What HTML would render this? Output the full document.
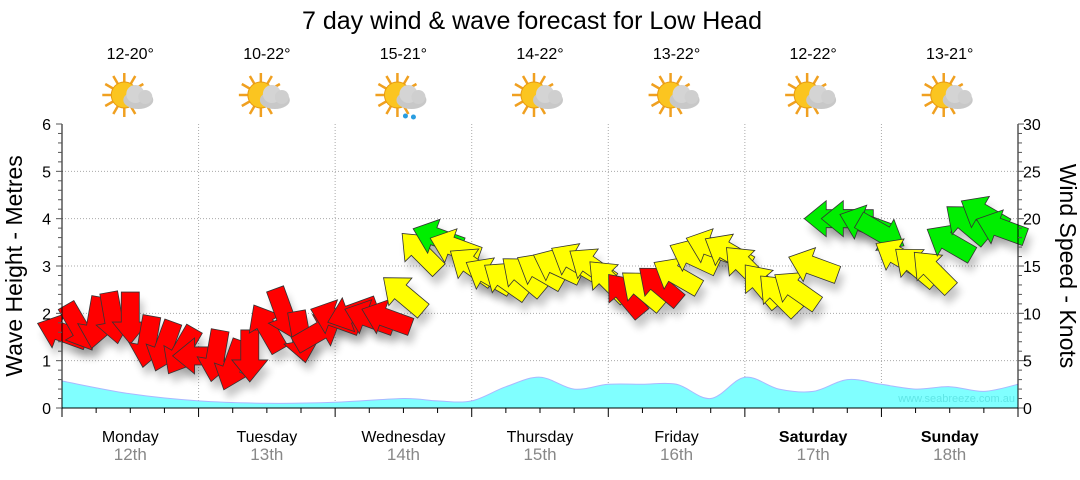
<!DOCTYPE html>
<html><head><meta charset="utf-8"><style>
body{margin:0;background:#fff;}
svg text{font-family:"Liberation Sans",sans-serif;}
</style></head><body>
<svg id="chart" width="1080" height="475" viewBox="0 0 1080 475">
<defs><filter id="sh" x="-50%" y="-50%" width="200%" height="200%"><feGaussianBlur stdDeviation="4"/></filter></defs>
<text x="532" y="29" font-size="25" text-anchor="middle">7 day wind &amp; wave forecast for Low Head</text>
<g id="grid"></g><g id="wave"></g><g id="icons"></g><g id="shadows"></g><g id="arrows"></g><g id="axes"></g>
<text x="1015" y="402" font-size="11" fill="#5fe6e6" text-anchor="end">www.seabreeze.com.au</text>
<text transform="translate(22,266) rotate(-90)" font-size="23" text-anchor="middle">Wave Height - Metres</text>
<text transform="translate(1060,266) rotate(90)" font-size="23" text-anchor="middle">Wind Speed - Knots</text>
</svg>
<script>
const days=["Monday","Tuesday","Wednesday","Thursday","Friday","Saturday","Sunday"];
const dates=["12th","13th","14th","15th","16th","17th","18th"];
const temps=["12-20°","10-22°","15-21°","14-22°","13-22°","12-22°","13-21°"];
const rainy=[false,false,true,false,false,false,false];
const leftTicks=[0,1,2,3,4,5,6];
const rightTicks=[0,5,10,15,20,25,30];
const waveHours=[0,12,24,36,48,60,66,72,78,84,90,96,102,108,114,120,126,132,138,144,150,156,162,168];
const waveVals=[0.57,0.3,0.15,0.1,0.12,0.2,0.15,0.15,0.45,0.65,0.4,0.5,0.5,0.5,0.2,0.65,0.4,0.35,0.6,0.5,0.4,0.45,0.35,0.5];
const windSpeed=[8,8.5,9,9.5,9.5,7,6.5,6,5.5,5.5,4.5,5.5,8.5,10,7.5,8,9.5,10,9.5,9.5,12,16.5,18,17,15,14,13.5,14,14.5,15,15.5,15,13.5,12,12.5,13,14,16,17,16.5,15,13,12,12.5,15,20,20,19.5,18.5,16,15,14.5,17.5,19.5,20.5,19];
const windDir=[200,60,100,80,90,100,110,120,180,100,110,90,240,70,80,-30,200,160,200,200,220,225,200,200,215,210,215,220,210,205,210,215,225,230,220,220,210,205,200,210,225,230,225,215,200,180,180,200,30,210,220,225,210,220,210,200];
const windCol=["r","r","r","r","r","r","r","r","r","r","r","r","r","r","r","r","r","r","r","r","y","y","g","y","y","y","y","y","y","y","y","y","y","r","y","r","y","y","y","y","y","y","y","y","y","g","g","g","g","y","y","y","g","g","g","g"];
const NS="http://www.w3.org/2000/svg";
const X0=62,X1=1018,Y0=408,Y1=124;
const xH=h=>X0+h/168*(X1-X0);
const yM=m=>Y0-m/6*(Y0-Y1);
const yK=k=>Y0-k/30*(Y0-Y1);
function mk(tag,attrs,parent){const e=document.createElementNS(NS,tag);for(const k in attrs)e.setAttribute(k,attrs[k]);parent.appendChild(e);return e;}
const grid=document.getElementById('grid'),axes=document.getElementById('axes');
for(let i=1;i<6;i++){const l=mk('line',{x1:X0,x2:X1,y1:yM(i),y2:yM(i),stroke:'#aaa','stroke-dasharray':'1,2'},grid);

}
for(let d=1;d<7;d++){const l=mk('line',{x1:xH(d*24),x2:xH(d*24),y1:Y1,y2:Y0,stroke:'#aaa','stroke-dasharray':'1,2'},grid);

}
// wave area (smoothed curve through data points)
const pts=waveHours.map((h,i)=>[xH(h),yM(waveVals[i])]);
let p=`M${X0},${Y0} L${pts[0][0]},${pts[0][1]}`;
for(let i=0;i<pts.length-1;i++){const a=pts[i>0?i-1:i],b=pts[i],c=pts[i+1],d=pts[i+2<pts.length?i+2:i+1];
const c1=[b[0]+(c[0]-a[0])/6,b[1]+(c[1]-a[1])/6],c2=[c[0]-(d[0]-b[0])/6,c[1]-(d[1]-b[1])/6];
p+=` C${c1[0].toFixed(1)},${c1[1].toFixed(1)} ${c2[0].toFixed(1)},${c2[1].toFixed(1)} ${c[0].toFixed(1)},${c[1].toFixed(1)}`;}
p+=` L${X1},${Y0} Z`;
const wa=mk('path',{d:p,fill:'#80ffff',stroke:'#aab8ff','stroke-width':1},document.getElementById('wave'));


// axes
mk('line',{x1:X0,x2:X0,y1:Y1,y2:Y0,stroke:'#000'},axes);
mk('line',{x1:X1,x2:X1,y1:Y1,y2:Y0,stroke:'#000'},axes);
mk('line',{x1:X0,x2:X1,y1:Y0,y2:Y0,stroke:'#000'},axes);
for(let i=0;i<=30;i++){const y=yM(i*0.2);mk('line',{x1:X0-(i%5?4:6),x2:X0,y1:y,y2:y,stroke:'#555'},axes);
const y2=yK(i);mk('line',{x1:X1,x2:X1+(i%5?4:6),y1:y2,y2:y2,stroke:'#555'},axes);}
leftTicks.forEach(v=>{const t=mk('text',{x:X0-11,y:yM(v)+6,'font-size':16,'text-anchor':'end'},axes);t.textContent=v;

});
rightTicks.forEach(v=>{const t=mk('text',{x:X1+5,y:yK(v)+6,'font-size':16},axes);t.textContent=v;

});
for(let h=0;h<=168;h+=6){mk('line',{x1:xH(h),x2:xH(h),y1:Y0,y2:Y0+(h%24?5:9),stroke:'#000'},axes);}
const icons=document.getElementById('icons');
days.forEach((d,i)=>{const cx=xH(i*24+12);
const t=mk('text',{x:cx,y:442,'font-size':16,'text-anchor':'middle','font-weight':i>=5?'bold':'normal'},axes);t.textContent=d;


const t2=mk('text',{x:cx,y:460,'font-size':17,'text-anchor':'middle',fill:'#888'},axes);t2.textContent=dates[i];


const t3=mk('text',{x:cx,y:59,'font-size':16,'text-anchor':'middle'},icons);t3.textContent=temps[i];


const g=mk('g',{},icons);


for(let a=0;a<12;a++){const r=a*Math.PI/6;mk('line',{x1:cx-6+Math.cos(r)*12,y1:95+Math.sin(r)*12,x2:cx-6+Math.cos(r)*22,y2:95+Math.sin(r)*22,stroke:'#f0a020','stroke-width':2.5},g);}
mk('circle',{cx:cx-6,cy:95,r:13,fill:'#fbc520',stroke:'#e89a10'},g);
mk('ellipse',{cx:cx+8,cy:100,rx:15,ry:9,fill:'#c8c8c8'},g);
mk('circle',{cx:cx+5,cy:94,r:9,fill:'#d4d4d4'},g);
mk('circle',{cx:cx+15,cy:97,r:7,fill:'#cfcfcf'},g);
if(rainy[i]){mk('circle',{cx:cx+2,cy:116,r:2.5,fill:'#2a9de0'},g);mk('circle',{cx:cx+10,cy:117,r:2.5,fill:'#2a9de0'},g);}
});
// arrows
const colMap={r:'#ff0000',y:'#ffff00',g:'#00ee00'};
const ag=document.getElementById('arrows'),sg=document.getElementById('shadows');
const shape="-26,-9 4,-9 4,-18 26,0 4,18 4,9 -26,9";
windSpeed.forEach((s,i)=>{const x=xH(i*3),y=yK(s);
const sh=mk('polygon',{points:shape,fill:'#000',opacity:0.22,filter:'url(#sh)',transform:`translate(${x+4},${y+9}) rotate(${windDir[i]})`},sg);


const a=mk('polygon',{points:shape,fill:colMap[windCol[i]],stroke:'#333','stroke-width':0.8,transform:`translate(${x},${y}) rotate(${windDir[i]})`},ag);

});
</script>
</body></html>
